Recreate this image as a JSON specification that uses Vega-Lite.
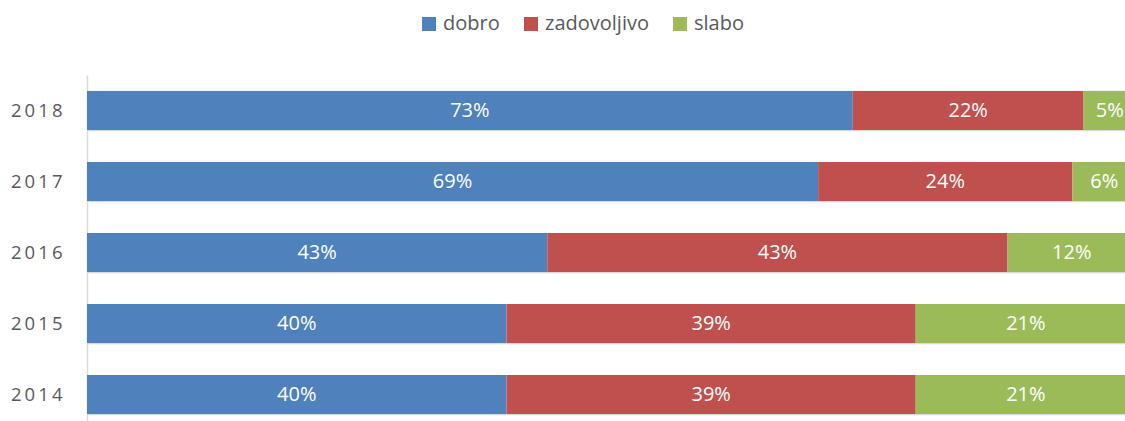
{
  "$schema": "https://vega.github.io/schema/vega-lite/v6.json",
  "width": 1038,
  "height": 346,
  "autosize": {"type": "none"},
  "padding": {"left": 87, "top": 75, "right": 0, "bottom": 0},
  "background": "white",
  "config": {"view": {"stroke": null}, "font": "Open Sans"},
  "data": {
    "values": [
      {"year": "2018", "k": "dobro", "i": 1, "v": 0.73},
      {"year": "2018", "k": "zadovoljivo", "i": 2, "v": 0.22},
      {"year": "2018", "k": "slabo", "i": 3, "v": 0.05},
      {"year": "2017", "k": "dobro", "i": 1, "v": 0.69},
      {"year": "2017", "k": "zadovoljivo", "i": 2, "v": 0.24},
      {"year": "2017", "k": "slabo", "i": 3, "v": 0.06},
      {"year": "2016", "k": "dobro", "i": 1, "v": 0.43},
      {"year": "2016", "k": "zadovoljivo", "i": 2, "v": 0.43},
      {"year": "2016", "k": "slabo", "i": 3, "v": 0.12},
      {"year": "2015", "k": "dobro", "i": 1, "v": 0.40},
      {"year": "2015", "k": "zadovoljivo", "i": 2, "v": 0.39},
      {"year": "2015", "k": "slabo", "i": 3, "v": 0.21},
      {"year": "2014", "k": "dobro", "i": 1, "v": 0.40},
      {"year": "2014", "k": "zadovoljivo", "i": 2, "v": 0.39},
      {"year": "2014", "k": "slabo", "i": 3, "v": 0.21}
    ]
  },
  "encoding": {
    "y": {
      "field": "year",
      "type": "ordinal",
      "sort": "descending",
      "scale": {"range": [0, 355], "paddingInner": 0.45, "paddingOuter": 0.225},
      "axis": {
        "title": null,
        "tickBand": "extent",
        "grid": true,
        "gridColor": "#d9d9d9",
        "gridWidth": 1.5,
        "domain": true,
        "domainColor": "#d9d9d9",
        "domainWidth": 1.5,
        "ticks": false,
        "labelPadding": 25,
        "labelFont": "Open Sans",
        "labelFontSize": 18.5,
        "labelColor": "#595959",
        "labelExpr": "join(split(datum.label, ''), '\u2009')"
      }
    },
    "x": {
      "field": "v",
      "type": "quantitative",
      "stack": "normalize",
      "scale": {"range": [0, 1049]},
      "axis": null
    },
    "order": {"field": "i", "type": "quantitative", "sort": "ascending"},
    "color": {
      "field": "k",
      "type": "nominal",
      "sort": ["dobro", "zadovoljivo", "slabo"],
      "scale": {"domain": ["dobro", "zadovoljivo", "slabo"], "range": ["#4F81BD", "#C0504D", "#9BBB59"]},
      "legend": {
        "title": null,
        "orient": "none",
        "direction": "horizontal",
        "legendX": 332,
        "legendY": -61,
        "padding": 0,
        "symbolType": "square",
        "symbolSize": 196,
        "symbolStrokeWidth": 0,
        "symbolOpacity": 1,
        "labelFont": "Open Sans",
        "labelFontSize": 20,
        "labelColor": "#595959",
        "labelOffset": 4,
        "columnPadding": 21
      }
    }
  },
  "layer": [
    {"mark": {"type": "bar"}},
    {
      "mark": {"type": "text", "fontSize": 20, "font": "Open Sans"},
      "encoding": {
        "x": {"field": "v", "type": "quantitative", "stack": "normalize", "bandPosition": 0.5},
        "fill": {"value": "white"},
        "text": {"field": "v", "format": ".0%"}
      }
    }
  ]
}
